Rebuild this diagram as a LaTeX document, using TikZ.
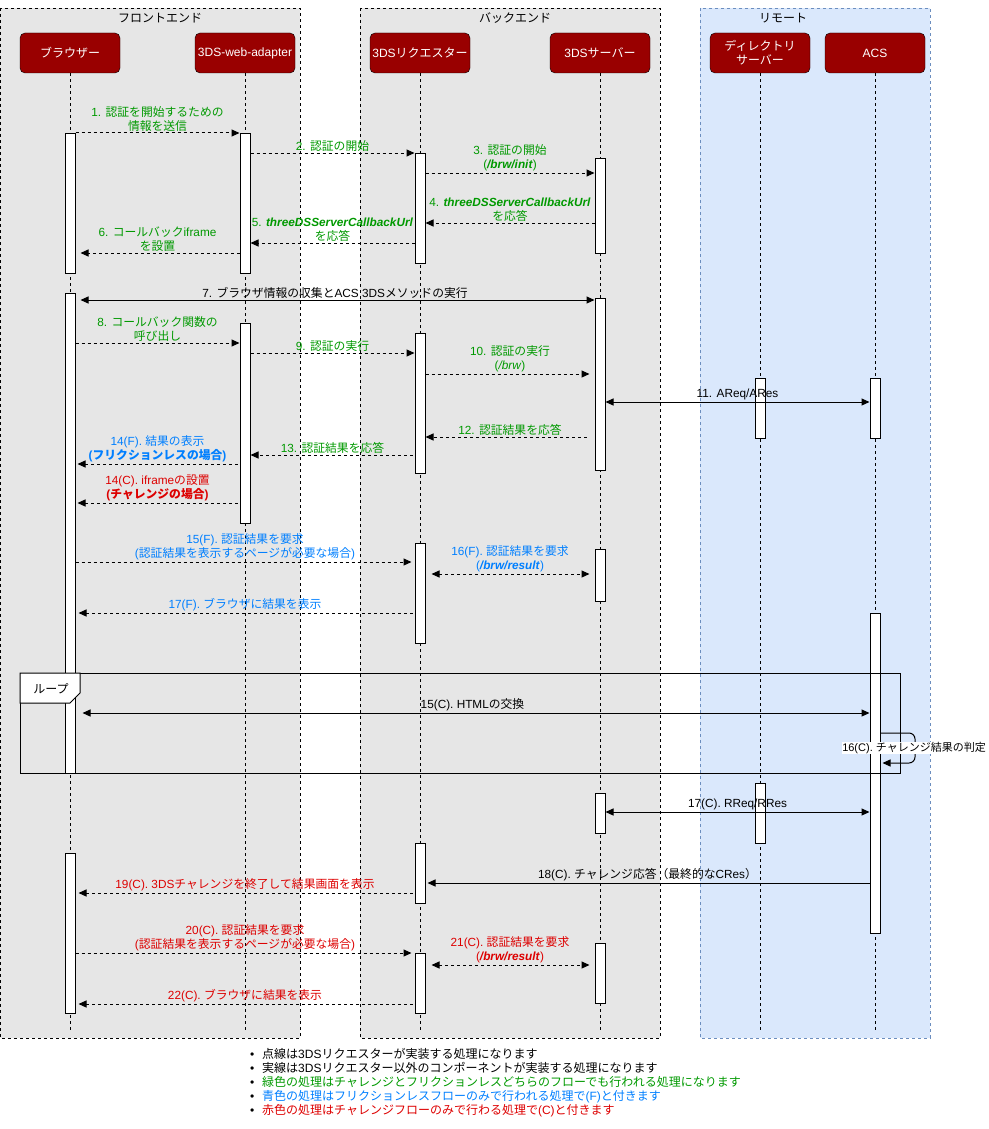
\documentclass[tikz,border=0pt]{standalone}
\usepackage{fontspec}
\setmainfont{Liberation Sans}
\newfontfamily\jpfont{Noto Sans CJK JP}
% Japanese characters switch to the CJK font automatically
\chardef\jpcls=7
\newcount\jpcc
\def\setjprange#1#2{\jpcc=#1\relax
  \loop\XeTeXcharclass\jpcc=\jpcls\relax
  \ifnum\jpcc<#2\relax\advance\jpcc by 1\relax\repeat}
\setjprange{"3000}{"30FF}
\setjprange{"4E00}{"9FFF}
\setjprange{"FF00}{"FFEF}
\XeTeXinterchartoks 0 \jpcls = {\jpfont}
\XeTeXinterchartoks 4095 \jpcls = {\jpfont}
\XeTeXinterchartoks \jpcls 0 = {\rmfamily}
\XeTeXinterchartoks 4095 0 = {\rmfamily}
\XeTeXinterchartokenstate=1
\usetikzlibrary{arrows.meta}
\definecolor{okgreen}{HTML}{009900}
\definecolor{okblue}{HTML}{007FFF}
\definecolor{okred}{HTML}{DD0000}
\definecolor{frontgray}{HTML}{E6E6E6}
\definecolor{remotefill}{HTML}{DAE8FC}
\definecolor{remoteline}{HTML}{6C8EBF}
\definecolor{actorred}{HTML}{990000}
\tikzset{
  actor/.style={draw, fill=actorred, text=white, rounded corners=5pt,
    minimum width=100pt, minimum height=40pt, align=center, inner sep=1pt,
    font=\fontsize{12}{14}\selectfont},
  zone/.style={dash pattern=on 3pt off 3pt, line width=0.8pt},
  life/.style={dash pattern=on 3pt off 3pt, line width=0.8pt},
  actbar/.style={draw, fill=white, minimum width=10pt, inner sep=0pt, anchor=north, line width=1pt},
  msg/.style={-{Triangle[length=8pt,width=7pt]}, line width=1pt},
  dmsg/.style={msg, dash pattern=on 3pt off 3pt},
  both/.style={{Triangle[length=8pt,width=7pt]}-{Triangle[length=8pt,width=7pt]}, line width=1pt},
  dboth/.style={both, dash pattern=on 3pt off 3pt},
  lbl/.style={above, midway, align=center, inner sep=1.5pt, font=\fontsize{11.8}{14}\selectfont},
}

\begin{document}
\begin{tikzpicture}[x=1pt, y=-1pt]
  \useasboundingbox (0,0) rectangle (988,1129);
  % zones
  \draw[zone, fill=frontgray] (0,8) rectangle (300,1038);
  \draw[zone, fill=frontgray] (360,8) rectangle (660,1038);
  \draw[zone, draw=remoteline, fill=remotefill] (700,8) rectangle (930,1038);
  \node[font=\fontsize{12}{14}\selectfont] (front) at (160,18) {フロントエンド};
  \node[font=\fontsize{12}{14}\selectfont] (back) at (515,18) {バックエンド};
  \node[font=\fontsize{12}{14}\selectfont] (remote) at (783,18) {リモート};
  % participants
  \node[actor] (br) at (70,53) {ブラウザー};
  \node[actor] (wa) at (245,53) {3DS-web-adapter};
  \node[actor] (rq) at (420,53) {3DSリクエスター};
  \node[actor] (sv) at (600,53) {3DSサーバー};
  \node[actor] (ds) at (760,53) {ディレクトリ\\サーバー};
  \node[actor] (acs) at (875,53) {ACS};
  \foreach \p in {br,wa,rq,sv,ds,acs}
    \draw[life] (\p.south) -- (\p |- 0,1030);
  % activations
  \node[actbar, minimum height=140pt] (br1) at (br |- 0,133) {};
  \node[actbar, minimum height=480pt] (br2) at (br |- 0,293) {};
  \node[actbar, minimum height=160pt] (br3) at (br |- 0,853) {};
  \node[actbar, minimum height=140pt] (wa1) at (wa |- 0,133) {};
  \node[actbar, minimum height=200pt] (wa2) at (wa |- 0,323) {};
  \node[actbar, minimum height=110pt] (rq1) at (rq |- 0,153) {};
  \node[actbar, minimum height=140pt] (rq2) at (rq |- 0,333) {};
  \node[actbar, minimum height=100pt] (rq3) at (rq |- 0,543) {};
  \node[actbar, minimum height=60pt] (rq4) at (rq |- 0,843) {};
  \node[actbar, minimum height=60pt] (rq5) at (rq |- 0,953) {};
  \node[actbar, minimum height=95pt] (sv1) at (sv |- 0,158) {};
  \node[actbar, minimum height=172pt] (sv2) at (sv |- 0,298) {};
  \node[actbar, minimum height=52pt] (sv3) at (sv |- 0,549) {};
  \node[actbar, minimum height=40pt] (sv4) at (sv |- 0,793) {};
  \node[actbar, minimum height=60pt] (sv5) at (sv |- 0,943) {};
  \node[actbar, minimum height=60pt] (ds1) at (ds |- 0,378) {};
  \node[actbar, minimum height=60pt] (ds2) at (ds |- 0,783) {};
  \node[actbar, minimum height=60pt] (acs1) at (acs |- 0,378) {};
  \node[actbar, minimum height=320pt] (acs2) at (acs |- 0,613) {};
  % loop frame
  \draw[line width=1pt] (20,673) rectangle (900,773);
  \draw[line width=1pt, fill=white] (20,673) -- (80,673) -- (80,693) -- (70,703) -- (20,703) -- cycle;
  \node[font=\fontsize{12}{14}\selectfont] (loop) at (51,689) {ループ};
  % messages
  \draw[dmsg] (br1.east |- 0,133) -- (wa1.west |- 0,133)
    node[lbl, text=okgreen] (m1) {1. 認証を開始するための\\情報を送信};
  \draw[dmsg] (wa1.east |- 0,153) -- (rq1.west |- 0,153)
    node[lbl, text=okgreen] (m2) {2. 認証の開始};
  \draw[dmsg] (rq1.east |- 0,173) -- (sv1.west |- 0,173)
    node[lbl, text=okgreen] (m3) {3. 認証の開始\\(\textbf{\textit{/brw/init}})};
  \draw[dmsg] (sv1.west |- 0,223) -- (rq1.east |- 0,223)
    node[lbl, text=okgreen] (m4) {4. \textbf{\textit{threeDSServerCallbackUrl}}\\を応答};
  \draw[dmsg] (rq1.west |- 0,243) -- (wa1.east |- 0,243)
    node[lbl, text=okgreen] (m5) {5. \textbf{\textit{threeDSServerCallbackUrl}}\\を応答};
  \draw[dmsg, shorten >=5pt] (wa1.west |- 0,253) -- (br1.east |- 0,253)
    node[lbl, text=okgreen] (m6) {6. コールバックiframe\\を設置};
  \draw[both, shorten <=5pt] (br2.east |- 0,300) -- (sv2.west |- 0,300)
    node[lbl] (m7) {7. ブラウザ情報の収集とACS 3DSメソッドの実行};
  \draw[dmsg] (br2.east |- 0,343) -- (wa2.west |- 0,343)
    node[lbl, text=okgreen] (m8) {8. コールバック関数の\\呼び出し};
  \draw[dmsg] (wa2.east |- 0,353) -- (rq2.west |- 0,353)
    node[lbl, text=okgreen] (m9) {9. 認証の実行};
  \draw[dmsg, shorten >=5pt] (rq2.east |- 0,374) -- (sv2.west |- 0,374)
    node[lbl, text=okgreen] (m10) {10. 認証の実行\\(\textit{/brw})};
  \draw[both] (sv2.east |- 0,402) -- (acs1.west |- 0,402)
    node[lbl] (m11) {11. AReq/ARes};
  \draw[dmsg, shorten <=8pt] (sv2.west |- 0,437) -- (rq2.east |- 0,437)
    node[lbl, text=okgreen] (m12) {12. 認証結果を応答};
  \draw[dmsg, shorten <=2pt] (rq2.west |- 0,455) -- (wa2.east |- 0,455)
    node[lbl, text=okgreen] (m13) {13. 認証結果を応答};
  \draw[dmsg, shorten <=2pt, shorten >=2pt] (wa2.west |- 0,464) -- (br2.east |- 0,464)
    node[lbl, text=okblue] (m14f) {14(F). 結果の表示\\\textbf{(フリクションレスの場合)}};
  \draw[dmsg, shorten <=2pt, shorten >=2pt] (wa2.west |- 0,503) -- (br2.east |- 0,503)
    node[lbl, text=okred] (m14c) {14(C). iframeの設置\\\textbf{(チャレンジの場合)}};
  \draw[dmsg, shorten >=3pt] (br2.east |- 0,562) -- (rq3.west |- 0,562)
    node[lbl, text=okblue] (m15f) {15(F). 認証結果を要求\\(認証結果を表示するページが必要な場合)};
  \draw[dboth, shorten <=6pt, shorten >=5pt] (rq3.east |- 0,574) -- (sv3.west |- 0,574)
    node[lbl, text=okblue] (m16f) {16(F). 認証結果を要求\\(\textbf{\textit{/brw/result}})};
  \draw[dmsg, shorten <=2pt, shorten >=3pt] (rq3.west |- 0,613) -- (br2.east |- 0,613)
    node[lbl, text=okblue] (m17f) {17(F). ブラウザに結果を表示};
  \draw[both, shorten <=7pt] (br2.east |- 0,713) -- (acs2.west |- 0,713)
    node[lbl] (m15c) {15(C). HTMLの交換};
  \draw[msg, rounded corners=6pt] (acs2.east |- 0,733) -- (915,733) -- (915,763)
    -- ([xshift=2pt]acs2.east |- 0,763);
  \node[fill=white, inner sep=0.5pt, font=\fontsize{11}{13}\selectfont] (m16c) at (914,748) {16(C). チャレンジ結果の判定};
  \draw[both] (sv4.east |- 0,812) -- (acs2.west |- 0,812)
    node[lbl] (m17c) {17(C). RReq/RRes};
  \draw[msg, shorten >=2pt] (acs2.west |- 0,883) -- (rq4.east |- 0,883)
    node[lbl] (m18c) {18(C). チャレンジ応答（最終的なCRes）};
  \draw[dmsg, shorten <=2pt, shorten >=3pt] (rq4.west |- 0,893) -- (br3.east |- 0,893)
    node[lbl, text=okred] (m19c) {19(C). 3DSチャレンジを終了して結果画面を表示};
  \draw[dmsg, shorten >=3pt] (br3.east |- 0,953) -- (rq5.west |- 0,953)
    node[lbl, text=okred] (m20c) {20(C). 認証結果を要求\\(認証結果を表示するページが必要な場合)};
  \draw[dboth, shorten <=6pt, shorten >=5pt] (rq5.east |- 0,965) -- (sv5.west |- 0,965)
    node[lbl, text=okred] (m21c) {21(C). 認証結果を要求\\(\textbf{\textit{/brw/result}})};
  \draw[dmsg, shorten <=2pt, shorten >=3pt] (rq5.west |- 0,1004) -- (br3.east |- 0,1004)
    node[lbl, text=okred] (m22c) {22(C). ブラウザに結果を表示};
  % legend
  \node[anchor=north west, align=left, inner sep=0pt, font=\fontsize{12}{14}\selectfont] (legend) at (262,1048) {%
    \llap{•\hspace{8pt}}点線は3DSリクエスターが実装する処理になります\\
    \llap{•\hspace{8pt}}実線は3DSリクエスター以外のコンポーネントが実装する処理になります\\
    \llap{•\hspace{8pt}}\textcolor{okgreen}{緑色の処理はチャレンジとフリクションレスどちらのフローでも行われる処理になります}\\
    \llap{•\hspace{8pt}}\textcolor{okblue}{青色の処理はフリクションレスフローのみで行われる処理で(F)と付きます}\\
    \llap{•\hspace{8pt}}\textcolor{okred}{赤色の処理はチャレンジフローのみで行わる処理で(C)と付きます}};
\end{tikzpicture}
\end{document}
